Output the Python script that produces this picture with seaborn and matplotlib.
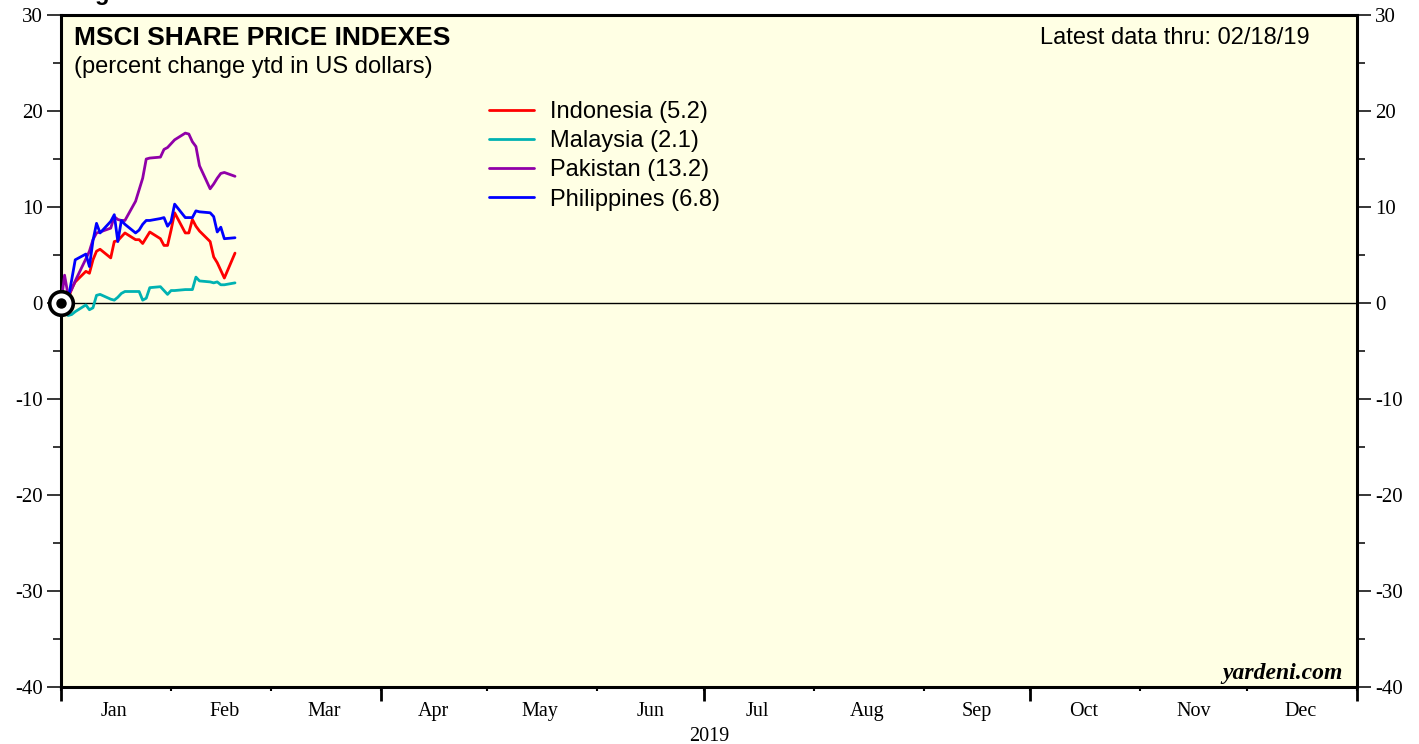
import pandas as pd
import matplotlib
matplotlib.use("Agg")
import matplotlib.pyplot as plt
import matplotlib.dates as mdates
from matplotlib.lines import Line2D
from matplotlib.ticker import MultipleLocator, NullFormatter
import seaborn as sns

# trading days, percent change ytd in US dollars
dates = pd.bdate_range("2018-12-31", "2019-02-18")
indonesia = [0.0, 0.2, 0.4, 1.5, 2.2, 3.3, 3.1, 4.5, 5.4, 5.6, 4.7, 6.4,
             6.5, 6.9, 7.3, 6.6, 6.6, 6.2, 6.8, 7.4, 6.7, 6.0, 6.0, 7.6,
             9.4, 7.3, 7.3, 8.7, 8.0, 7.5, 6.4, 4.8, 4.2, 3.4, 2.6, 5.2]
malaysia = [0.0, -1.0, -1.3, -1.2, -0.9, -0.2, -0.7, -0.5, 0.8, 0.9, 0.4, 0.3,
            0.6, 1.0, 1.2, 1.2, 1.2, 0.3, 0.5, 1.6, 1.7, 1.3, 0.9, 1.3,
            1.3, 1.4, 1.4, 1.4, 2.7, 2.3, 2.2, 2.1, 2.2, 1.9, 1.9, 2.1]
pakistan = [0.0, 2.9, 0.8, 1.4, 2.3, 4.6, 5.4, 6.6, 7.3, 7.4, 7.8, 9.0,
            8.7, 8.6, 8.6, 10.6, 11.8, 13.0, 15.0, 15.1, 15.2, 16.0, 16.2, 16.6,
            17.0, 17.7, 17.6, 16.8, 16.3, 14.3, 11.9, 12.4, 13.0, 13.5, 13.6, 13.2]
philippines = [0.0, 0.6, 0.4, 2.4, 4.5, 5.1, 3.8, 6.5, 8.3, 7.3, 8.5, 9.2,
               6.4, 8.6, 8.2, 7.3, 7.6, 8.2, 8.6, 8.6, 8.8, 8.9, 8.0, 8.5,
               10.3, 8.9, 8.9, 8.9, 9.6, 9.5, 9.4, 9.0, 7.4, 7.9, 6.7, 6.8]

countries = ["Indonesia", "Malaysia", "Pakistan", "Philippines"]
colors = ["#ff0000", "#00b2b2", "#9000a8", "#0000ff"]

# closes are drawn at the start of the next day
x_dates = dates + pd.Timedelta(days=1)
df = pd.DataFrame({
    "date": list(x_dates) * 4,
    "country": [c for c in countries for _ in dates],
    "value": indonesia + malaysia + pakistan + philippines,
})

sns.set_style("ticks")
plt.rcParams["font.family"] = ["Liberation Sans", "DejaVu Sans"]
plt.rcParams["axes.unicode_minus"] = False
for key in ["text.color", "axes.labelcolor", "xtick.color", "ytick.color",
            "xtick.labelcolor", "ytick.labelcolor"]:
    plt.rcParams[key] = "black"

fig = plt.figure(figsize=(14.19, 7.44), dpi=100)
ax = fig.add_axes([0.043, 0.0766, 0.9133, 0.9032])
ax.set_facecolor("#ffffe4")

sns.lineplot(data=df, x="date", y="value", hue="country", hue_order=countries,
             palette=dict(zip(countries, colors)), estimator=None, sort=False,
             linewidth=2.0, legend=False, ax=ax, zorder=3)

ax.axhline(0, color="black", lw=1.0, zorder=2)

# base point marker
ax.plot(x_dates[0], indonesia[0], "o", ms=17, mfc="white", mec="black",
        mew=2.6, clip_on=False, zorder=6)
ax.plot(x_dates[0], indonesia[0], "o", ms=6.5, color="black",
        clip_on=False, zorder=7)

ax.set_xlim(pd.Timestamp("2019-01-01"), pd.Timestamp("2020-01-01"))
ax.set_ylim(-40, 30)

for s in ax.spines.values():
    s.set_visible(True)
    s.set_linewidth(2.2)
    s.set_color("black")

serif = ["Liberation Serif", "DejaVu Serif"]

# y axis: both sides
ax.yaxis.set_major_locator(MultipleLocator(10))
ax.yaxis.set_minor_locator(MultipleLocator(5))
ax.tick_params(axis="y", which="both", left=True, right=True,
               labelleft=True, labelright=True, direction="out",
               width=1.1, color="black", labelsize=15)
ax.tick_params(axis="y", which="major", length=10, pad=2)
ax.tick_params(axis="y", which="minor", length=5.5)
ax.tick_params(axis="y", which="major", labelright=True, pad=3)
for lab in ax.get_yticklabels():
    lab.set_family(serif)

# x axis: small month ticks, labels mid-month
ax.xaxis.set_minor_locator(mdates.MonthLocator())
ax.xaxis.set_minor_formatter(NullFormatter())
ax.xaxis.set_major_locator(mdates.MonthLocator(bymonthday=16))
ax.xaxis.set_major_formatter(mdates.DateFormatter("%b"))
ax.tick_params(axis="x", which="minor", length=3, width=1.5, direction="out")
ax.tick_params(axis="x", which="major", length=0, pad=11, labelsize=14.5)
for lab in ax.get_xticklabels():
    lab.set_family(serif)

# longer quarter ticks
sec = ax.secondary_xaxis("bottom")
sec.xaxis.set_major_locator(mdates.MonthLocator(bymonth=[1, 4, 7, 10]))
sec.xaxis.set_major_formatter(NullFormatter())
sec.tick_params(axis="x", length=10, width=2, direction="out")
sec.spines["bottom"].set_visible(False)

ax.set_xlabel("2019", family=serif, fontsize=14.5, labelpad=4)
ax.set_ylabel("")

ax.text(0.010, 0.9554, "MSCI SHARE PRICE INDEXES", transform=ax.transAxes,
        fontsize=19, fontweight="bold", va="baseline", ha="left")
ax.text(0.010, 0.9137, "(percent change ytd in US dollars)",
        transform=ax.transAxes, fontsize=17, va="baseline", ha="left")
ax.text(0.9637, 0.9568, "Latest data thru: 02/18/19", transform=ax.transAxes,
        fontsize=17, va="baseline", ha="right")
ax.text(0.989, 0.012, "yardeni.com", transform=ax.transAxes, family=serif,
        fontsize=17, fontweight="bold", style="italic", va="baseline",
        ha="right")

fig.text(74 / 1419, 1.0, "Figure 1.", fontsize=17, fontweight="bold",
         va="baseline", ha="left")

series = [indonesia, malaysia, pakistan, philippines]
handles = [Line2D([], [], color=c, lw=2.0) for c in colors]
labels = [f"{n} ({v[-1]:.1f})" for n, v in zip(countries, series)]
ax.legend(handles, labels, loc="upper left", bbox_to_anchor=(0.3305, 0.8716),
          frameon=False, fontsize=17, handlelength=1.9, handletextpad=0.65,
          labelspacing=0.3, borderaxespad=0, borderpad=0)

fig.savefig("out.png", dpi=100)
